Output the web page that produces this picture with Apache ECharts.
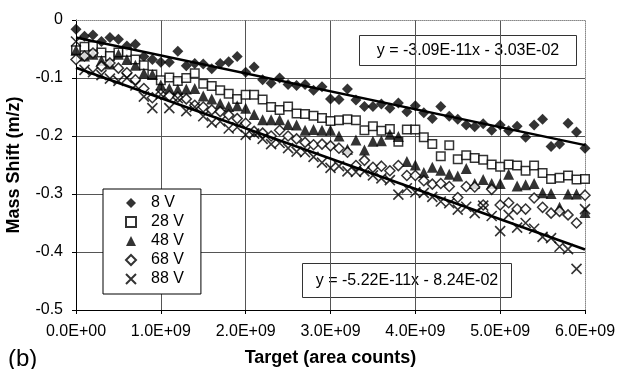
<!DOCTYPE html>
<html>
<head>
<meta charset="utf-8">
<script src="https://cdn.jsdelivr.net/npm/echarts@6/dist/echarts.min.js"></script>
<style>
  html, body { margin: 0; padding: 0; background: #fff; }
  #chart { width: 620px; height: 369px; }
</style>
</head>
<body>
<div id="chart"></div>
<script>
// Target amount (area counts, in units of 1E9) shared by every voltage series
var targetE9 = [
  0.0, 0.1, 0.2, 0.3, 0.4, 0.5, 0.6, 0.7, 0.8, 0.9,
  1.0, 1.1, 1.2, 1.3, 1.4, 1.5, 1.6, 1.7, 1.8, 1.9,
  2.0, 2.1, 2.2, 2.3, 2.4, 2.5, 2.6, 2.7, 2.8, 2.9,
  3.0, 3.1, 3.2, 3.3, 3.4, 3.5, 3.6, 3.7, 3.8, 3.9,
  4.0, 4.1, 4.2, 4.3, 4.4, 4.5, 4.6, 4.7, 4.8, 4.9,
  5.0, 5.1, 5.2, 5.3, 5.4, 5.5, 5.6, 5.7, 5.8, 5.9,
  6.0
];

// Mass shift (m/z) per voltage
var shift8V = [
  -0.016, -0.028, -0.026, -0.037, -0.030, -0.033, -0.045, -0.042, -0.063, -0.068,
  -0.073, -0.073, -0.054, -0.079, -0.075, -0.076, -0.084, -0.075, -0.072, -0.063,
  -0.090, -0.081, -0.103, -0.109, -0.100, -0.111, -0.113, -0.111, -0.121, -0.115,
  -0.136, -0.137, -0.119, -0.138, -0.149, -0.149, -0.145, -0.152, -0.143, -0.158,
  -0.148, -0.160, -0.170, -0.149, -0.166, -0.171, -0.181, -0.184, -0.179, -0.190,
  -0.181, -0.191, -0.183, -0.202, -0.181, -0.171, -0.218, -0.214, -0.178, -0.193,
  -0.221
];
var shift28V = [
  -0.052, -0.046, -0.045, -0.056, -0.062, -0.056, -0.055, -0.068, -0.078, -0.094,
  -0.104, -0.099, -0.105, -0.100, -0.092, -0.110, -0.114, -0.121, -0.127, -0.136,
  -0.129, -0.129, -0.137, -0.150, -0.155, -0.149, -0.161, -0.162, -0.165, -0.169,
  -0.174, -0.173, -0.171, -0.173, -0.190, -0.183, -0.191, -0.188, -0.210, -0.189,
  -0.189, -0.202, -0.214, -0.235, -0.216, -0.240, -0.233, -0.238, -0.241, -0.249,
  -0.253, -0.249, -0.251, -0.260, -0.251, -0.264, -0.274, -0.272, -0.268, -0.275,
  -0.274
];
var shift48V = [
  -0.052, -0.062, -0.059, -0.070, -0.076, -0.059, -0.068, -0.078, -0.092, -0.094,
  -0.112, -0.118, -0.120, -0.119, -0.118, -0.131, -0.136, -0.144, -0.149, -0.148,
  -0.152, -0.163, -0.172, -0.172, -0.172, -0.180, -0.181, -0.190, -0.189, -0.190,
  -0.190, -0.200, -0.223, -0.207, -0.224, -0.209, -0.208, -0.197, -0.201, -0.244,
  -0.250, -0.263, -0.254, -0.259, -0.266, -0.269, -0.256, -0.282, -0.275, -0.282,
  -0.282, -0.266, -0.286, -0.284, -0.282, -0.298, -0.299, -0.323, -0.300, -0.300,
  -0.332
];
var shift68V = [
  -0.068, -0.062, -0.057, -0.080, -0.074, -0.083, -0.091, -0.103, -0.118, -0.134,
  -0.128, -0.131, -0.133, -0.136, -0.147, -0.150, -0.155, -0.158, -0.164, -0.170,
  -0.178, -0.192, -0.195, -0.200, -0.190, -0.200, -0.205, -0.211, -0.215, -0.214,
  -0.217, -0.221, -0.228, -0.251, -0.242, -0.254, -0.252, -0.260, -0.251, -0.268,
  -0.268, -0.277, -0.283, -0.282, -0.287, -0.306, -0.287, -0.288, -0.319, -0.292,
  -0.319, -0.315, -0.326, -0.326, -0.307, -0.323, -0.333, -0.330, -0.336, -0.350,
  -0.302
];
var shift88V = [
  -0.037, -0.086, -0.090, -0.095, -0.101, -0.105, -0.100, -0.113, -0.132, -0.152,
  -0.128, -0.152, -0.135, -0.157, -0.150, -0.166, -0.177, -0.175, -0.187, -0.185,
  -0.198, -0.196, -0.205, -0.214, -0.212, -0.221, -0.227, -0.228, -0.236, -0.246,
  -0.255, -0.252, -0.261, -0.262, -0.261, -0.268, -0.273, -0.276, -0.301, -0.290,
  -0.297, -0.298, -0.305, -0.313, -0.316, -0.327, -0.322, -0.333, -0.320, -0.338,
  -0.364, -0.336, -0.358, -0.350, -0.360, -0.374, -0.376, -0.391, -0.395, -0.429,
  -0.326
];

var seriesNames = ['8 V', '28 V', '48 V', '68 V', '88 V'];

// Linear fits (8 V and 88 V) as printed in the equation boxes
var fitSlopes = [-3.09e-11, -5.22e-11];
var fitIntercepts = [-3.03e-2, -8.24e-2];
var fitLabels = ['y = -3.09E-11x - 3.03E-02', 'y = -5.22E-11x - 8.24E-02'];

// Axis tick labels
var xTickLabels = ['0.0E+00', '1.0E+09', '2.0E+09', '3.0E+09', '4.0E+09', '5.0E+09', '6.0E+09'];
var yTickLabels = ['-0.5', '-0.4', '-0.3', '-0.2', '-0.1', '0'];

var FONT = '"Liberation Sans", Arial, Helvetica, sans-serif';
var X_MIN = 0, X_MAX = 6e9, Y_MIN = -0.5, Y_MAX = 0;

function pairs(values) {
  return values.map(function (v, i) { return [targetE9[i] * 1e9, v]; });
}
function fitLine(k) {
  return [X_MIN, X_MAX].map(function (x) { return [x, fitSlopes[k] * x + fitIntercepts[k]]; });
}

var allShifts = [shift8V, shift28V, shift48V, shift68V, shift88V];
var markerStyles = [
  { symbol: 'diamond', symbolSize: 11, itemStyle: { color: '#000' } },
  { symbol: 'rect', symbolSize: 8.5, itemStyle: { color: '#fff', borderColor: '#000', borderWidth: 1.5 } },
  { symbol: 'triangle', symbolSize: 11, itemStyle: { color: '#000' } },
  { symbol: 'diamond', symbolSize: 10, itemStyle: { color: '#fff', borderColor: '#000', borderWidth: 1.5 } },
  { symbol: 'path://M0,0L10,10M10,0L0,10', symbolSize: 10, itemStyle: { color: '#000', borderColor: '#000', borderWidth: 1.6 } }
];

var series = allShifts.map(function (vals, i) {
  return {
    type: 'scatter',
    name: seriesNames[i],
    data: pairs(vals),
    symbol: markerStyles[i].symbol,
    symbolSize: markerStyles[i].symbolSize,
    itemStyle: markerStyles[i].itemStyle,
    emphasis: { disabled: true },
    z: 3 + i
  };
});

fitSlopes.forEach(function (s, k) {
  series.push({
    type: 'line',
    name: 'fit' + k,
    data: fitLine(k),
    showSymbol: false,
    symbol: 'none',
    lineStyle: { color: '#000', width: 2.5 },
    emphasis: { disabled: true },
    z: 10
  });
});

var chart = echarts.init(document.getElementById('chart'), null, { renderer: 'canvas' });

chart.setOption({
  animation: false,
  backgroundColor: '#fff',
  textStyle: { fontFamily: FONT, color: '#000' },
  grid: { left: 76, right: 35, top: 20, bottom: 59, containLabel: false, outerBoundsMode: 'none' },
  xAxis: [{
    type: 'value',
    min: X_MIN, max: X_MAX, interval: 1e9,
    name: 'Target (area counts)',
    nameLocation: 'middle',
    nameGap: 39,
    nameTextStyle: { fontFamily: FONT, fontSize: 18, fontWeight: 'bold', color: '#000' },
    axisLine: { onZero: false, lineStyle: { color: '#000', width: 1 } },
    axisTick: { show: true, length: 4, lineStyle: { color: '#000' } },
    axisLabel: {
      margin: 14, fontFamily: FONT, fontSize: 16, color: '#000',
      formatter: function (v) { return xTickLabels[Math.round(v / 1e9)]; }
    },
    splitLine: { show: true, showMaxLine: false, lineStyle: { color: '#555', width: 1 } }
  }, {
    type: 'value', position: 'top',
    min: X_MIN, max: X_MAX,
    axisLine: { show: true, onZero: false, lineStyle: { color: '#888', width: 1, type: 'dotted' } },
    axisTick: { show: false }, axisLabel: { show: false }, splitLine: { show: false }
  }],
  yAxis: [{
    type: 'value',
    min: Y_MIN, max: Y_MAX, interval: 0.1,
    name: 'Mass Shift (m/z)',
    nameLocation: 'middle',
    nameGap: 53,
    nameTextStyle: { fontFamily: FONT, fontSize: 18, fontWeight: 'bold', color: '#000' },
    axisLine: { show: true, onZero: false, lineStyle: { color: '#000', width: 1 } },
    axisTick: { show: true, length: 4, lineStyle: { color: '#000' } },
    axisLabel: {
      margin: 13, fontFamily: FONT, fontSize: 16, color: '#000',
      formatter: function (v) { return yTickLabels[Math.round((v - Y_MIN) / 0.1)]; }
    },
    splitLine: { show: true, showMaxLine: false, lineStyle: { color: '#555', width: 1 } }
  }, {
    type: 'value', position: 'right',
    min: Y_MIN, max: Y_MAX,
    axisLine: { show: true, onZero: false, lineStyle: { color: '#888', width: 1, type: 'dotted' } },
    axisTick: { show: false }, axisLabel: { show: false }, splitLine: { show: false }
  }],
  legend: {
    data: seriesNames,
    orient: 'vertical',
    left: 103, top: 189,
    padding: [6, 17, 7, 22],
    itemWidth: 10, itemHeight: 10, itemGap: 3,
    backgroundColor: '#fff',
    borderColor: '#000', borderWidth: 1,
    selectedMode: false,
    textStyle: { fontFamily: FONT, fontSize: 16, color: '#000', padding: [0, 0, 0, 10] }
  },
  graphic: [
    {
      type: 'group', left: 359, top: 35, z: 20,
      children: [
        { type: 'rect', shape: { x: 0, y: 0, width: 217, height: 30 },
          style: { fill: '#fff', stroke: '#333', lineWidth: 1 } },
        { type: 'text', x: 108.5, y: 15,
          style: { text: fitLabels[0], font: '16px ' + FONT, fill: '#000', align: 'center', verticalAlign: 'middle' } }
      ]
    },
    {
      type: 'group', left: 302, top: 263, z: 20,
      children: [
        { type: 'rect', shape: { x: 0, y: 0, width: 209, height: 34 },
          style: { fill: '#fff', stroke: '#333', lineWidth: 1 } },
        { type: 'text', x: 104.5, y: 17,
          style: { text: fitLabels[1], font: '16px ' + FONT, fill: '#000', align: 'center', verticalAlign: 'middle' } }
      ]
    },
    {
      type: 'text', left: 8, top: 347, z: 20,
      style: { text: '(b)', font: '24px ' + FONT, fill: '#000' }
    }
  ],
  series: series
});
</script>
</body>
</html>
